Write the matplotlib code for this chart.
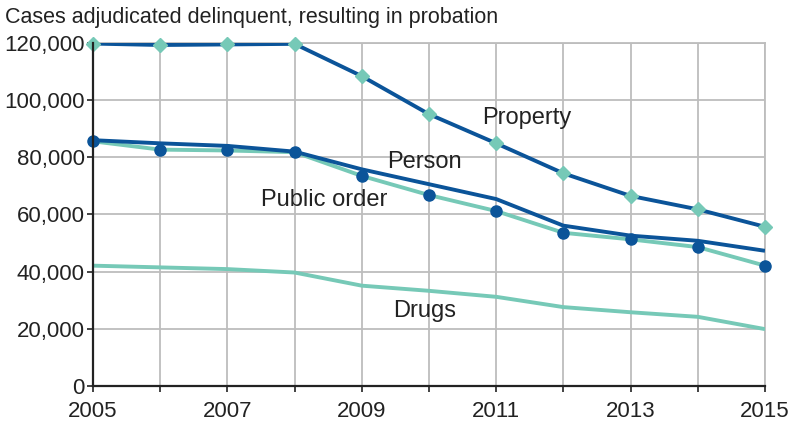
import numpy as np
import matplotlib.pyplot as plt

plt.rcParams['font.family'] = ['Liberation Sans', 'DejaVu Sans']

years = [2005, 2006, 2007, 2008, 2009, 2010, 2011, 2012, 2013, 2014, 2015]
property_cases = [119800, 119300, 119500, 119700, 108400, 95100, 84900, 74400, 66500, 61800, 55700]
person_cases = [86000, 84900, 84000, 82000, 75800, 70600, 65400, 56100, 52600, 50800, 47300]
public_order_cases = [85600, 82700, 82400, 81800, 73500, 66800, 61200, 53600, 51300, 48600, 42100]
drugs_cases = [42100, 41500, 40900, 39700, 35100, 33300, 31200, 27600, 25800, 24200, 19900]

DARK = '#0b5499'
TEAL = '#76c9b7'
TXT = '#222222'

fig = plt.figure(figsize=(7.91, 4.21), dpi=100)
ax = fig.add_axes([93 / 791, 35 / 421, 672 / 791, 343 / 421])

ax.plot(years, drugs_cases, color=TEAL, lw=2.8, zorder=3, solid_capstyle='butt')
ax.plot(years, public_order_cases, color=TEAL, lw=2.8, zorder=3, solid_capstyle='butt')
ax.plot(years, person_cases, color=DARK, lw=2.8, zorder=4, solid_capstyle='butt')
ax.plot(years, property_cases, color=DARK, lw=2.8, zorder=4, solid_capstyle='butt')
# markers sit on top of the lines
ax.plot(years, public_order_cases, 'o', color=DARK, ms=8, zorder=5, clip_on=False)
ax.plot(years, property_cases, 'D', color=TEAL, ms=7, zorder=5, clip_on=False)

lab = dict(fontsize=17, ha='center', va='center', color=TXT)
ax.text(2011.46, 93800, 'Property', **lab)
ax.text(2009.93, 78400, 'Person', **lab)
ax.text(2008.44, 65100, 'Public order', **lab)
ax.text(2009.93, 26200, 'Drugs', **lab)

ax.set_xlim(2005, 2015)
ax.set_ylim(0, 120000)
ax.set_xticks(years)
ax.set_xticklabels([str(y) if y % 2 == 1 else '' for y in years])
ax.set_yticks(range(0, 120001, 20000))
ax.set_yticklabels([f'{v:,}' for v in range(0, 120001, 20000)])
ax.tick_params(axis='both', labelsize=16, colors=TXT, length=4, width=1.2, pad=2)
ax.tick_params(axis='x', pad=7)

ax.grid(True, color='#bdbdbd', lw=1.3, zorder=0)
ax.set_axisbelow(True)
for side in ['top', 'right']:
    ax.spines[side].set_visible(False)
for side in ['left', 'bottom']:
    ax.spines[side].set_color(TXT)
    ax.spines[side].set_linewidth(1.6)
    ax.spines[side].set_zorder(6)
# grid line at the top and right edges
ax.axhline(120000, color='#bdbdbd', lw=1.3, zorder=0, clip_on=False)
ax.axvline(2015, color='#bdbdbd', lw=1.3, zorder=0, clip_on=False)

fig.text(5 / 791, 1 - 18 / 421, 'Cases adjudicated delinquent, resulting in probation',
         fontsize=15.5, va='center', ha='left', color=TXT)

fig.savefig('out.png', dpi=100)
